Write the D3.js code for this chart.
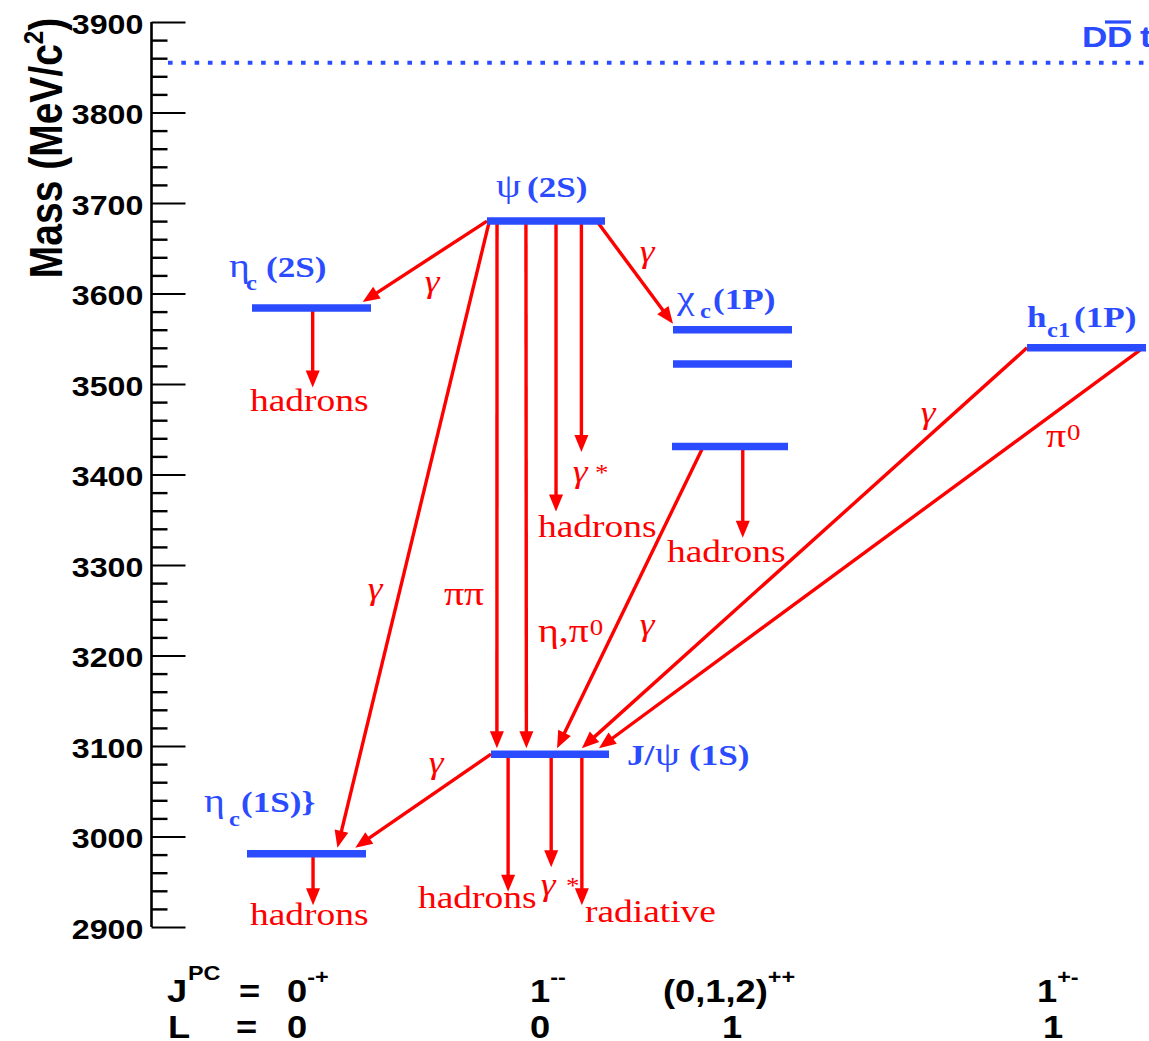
<!DOCTYPE html>
<html><head><meta charset="utf-8">
<script src="https://cdn.jsdelivr.net/npm/d3@7"></script>
<style>
html,body{margin:0;padding:0;background:#fff;}
svg{display:block;}
</style></head><body>
<svg id="chart" width="1149" height="1041"></svg>
<script>
// ---- data ---------------------------------------------------------------
const massDomain  = [2900, 3900];
const majorTicks  = d3.range(2900, 3901, 100);
const minorTicks  = d3.range(2900, 3900, 20).filter(v => v % 100 !== 0);

// charmonium levels, mass in MeV/c^2
const levelKeys   = ["etac1S", "jpsi", "chic0", "chic1", "chic2", "hc1", "etac2S", "psi2S"];
const levelMasses = [2981, 3091, 3431, 3522, 3560, 3540, 3584, 3680];
const thresholdMass = 3855;

// transitions between levels; open decays end at a mass instead of a level
const transitions = [
  {from: "psi2S",  to: "etac2S", label: "γ"},
  {from: "psi2S",  to: "etac1S", label: "γ"},
  {from: "psi2S",  to: "jpsi",   label: "ππ"},
  {from: "psi2S",  to: "jpsi",   label: "η,π0"},
  {from: "psi2S",  end: 3359,    label: "hadrons"},
  {from: "psi2S",  end: 3425,    label: "γ*"},
  {from: "psi2S",  to: "chic2",  label: "γ"},
  {from: "chic0",  to: "jpsi",   label: "γ"},
  {from: "chic0",  end: 3330,    label: "hadrons"},
  {from: "hc1",    to: "jpsi",   label: "γ"},
  {from: "hc1",    to: "jpsi",   label: "π0"},
  {from: "jpsi",   to: "etac1S", label: "γ"},
  {from: "jpsi",   end: 2939,    label: "hadrons"},
  {from: "jpsi",   end: 2966,    label: "γ*"},
  {from: "jpsi",   end: 2924,    label: "radiative"},
  {from: "etac2S", end: 3496,    label: "hadrons"},
  {from: "etac1S", end: 2924,    label: "hadrons"}
];

// quantum numbers per column
const jpcBase = ["0", "1", "(0,1,2)", "1"];
const jpcSup  = ["-+", "--", "++", "+-"];
const lValues = ["0", "0", "1", "1"];

// ---- layout -------------------------------------------------------------
const W = 1149, H = 1041;
const SX = 1.17;                 // horizontal glyph stretch
const BLUE = "#2b4bff", RED = "#ff0000";

const y = d3.scaleLinear().domain(massDomain).range([927, 22]);
const x = d3.scaleIdentity().domain([0, W]);
const axisX = 151.5;

// bar extents of each level
const levelLayout = {
  etac1S: [247, 366], jpsi: [491, 609], chic0: [672, 788], chic1: [673, 792],
  chic2: [673, 792], hc1: [1027, 1146], etac2S: [252, 371], psi2S: [487, 605]
};
// anchor of each transition along source / target bar (0 = left end, 1 = right end)
const anchors = [
  [0.00, 0.93], [0.02, 0.76], [0.085, 0.05], [0.33, 0.30], [0.585], [0.80],
  [0.93, 0.00], [0.27, 0.56], [0.61], [0.00, 0.77], [0.975, 0.915],
  [0.00, 0.91], [0.145], [0.51], [0.77], [0.51], [0.555]
];
const tipGap = 6;

const svg = d3.select("#chart");
const massOf = Object.fromEntries(levelKeys.map((k, i) => [k, levelMasses[i]]));
const barX = (k, f) => x(levelLayout[k][0] + f * (levelLayout[k][1] - levelLayout[k][0]));

function txt(parent, px, py, s, st) {
  return parent.append("text")
    .attr("transform", `translate(${px},${py}) scale(${SX},1)`)
    .attr("font-family", st.family)
    .attr("font-size", st.size)
    .attr("font-weight", st.weight || "normal")
    .attr("font-style", st.style || "normal")
    .attr("fill", st.fill || "#000")
    .attr("text-anchor", st.anchor || "start")
    .text(s);
}
const widthOf = t => t.node().getComputedTextLength() * SX;
const SANS = "'Liberation Sans', Arial, Helvetica, sans-serif";
const SERIF = "'Liberation Serif', 'Times New Roman', serif";

// ---- mass axis ----------------------------------------------------------
const axisG = svg.append("g").attr("transform", `translate(${axisX},0)`);
axisG.call(d3.axisLeft(y).tickValues(minorTicks).tickSize(-16).tickSizeOuter(0).tickFormat(""))
  .call(g => g.select(".domain").remove())
  .call(g => g.selectAll("line").attr("stroke", "#000").attr("stroke-width", 2.4));
const majorG = svg.append("g").attr("transform", `translate(${axisX},0)`);
majorG.call(d3.axisLeft(y).tickValues(majorTicks).tickSize(-34).tickSizeOuter(0).tickPadding(7)
    .tickFormat(d3.format("d")))
  .call(g => g.select(".domain").attr("stroke", "#000").attr("stroke-width", 2.6)
      .attr("d", `M0,${y(massDomain[0])}V${y(massDomain[1])}`))
  .call(g => g.selectAll("line").attr("stroke", "#000").attr("stroke-width", 2))
  .call(g => g.selectAll("text")
      .attr("font-family", SANS).attr("font-size", 27.5).attr("font-weight", "bold")
      .attr("fill", "#000").attr("dy", "0.4em")
      .attr("transform", `scale(${SX},1)`));

// axis title
const title = svg.append("text")
  .attr("transform", `translate(62,148) scale(${SX},1) rotate(-90)`)
  .attr("text-anchor", "middle")
  .attr("font-family", SANS).attr("font-size", 39).attr("font-weight", "bold");
title.append("tspan").text("Mass (MeV/c");
title.append("tspan").attr("font-size", 24).attr("dy", -16).text("2");
title.append("tspan").attr("dy", 16).text(")");

// ---- open-charm threshold ----------------------------------------------
svg.append("line")
  .attr("x1", 168).attr("x2", W).attr("y1", y(thresholdMass)).attr("y2", y(thresholdMass))
  .attr("stroke", BLUE).attr("stroke-width", 4).attr("stroke-dasharray", "4.6 8.7");
const ddSt = {family: SANS, size: 30, weight: "bold", fill: BLUE};
txt(svg, 1082, 47, "D", ddSt);
txt(svg, 1107, 47, "D", ddSt);
svg.append("line").attr("x1", 1105).attr("x2", 1131).attr("y1", 22).attr("y2", 22)
  .attr("stroke", BLUE).attr("stroke-width", 3.2);
txt(svg, 1140, 47, "threshold", ddSt);

// ---- transitions --------------------------------------------------------
const arrowG = svg.append("g");
function arrow(x1, y1, x2, y2) {
  const L = 17, hw = 7;
  const dx = x2 - x1, dy = y2 - y1, len = Math.hypot(dx, dy);
  const ux = dx / len, uy = dy / len;
  const bx = x2 - ux * L, by = y2 - uy * L;
  arrowG.append("line").attr("x1", x1).attr("y1", y1).attr("x2", bx + ux * 2).attr("y2", by + uy * 2)
    .attr("stroke", RED).attr("stroke-width", 3.4);
  arrowG.append("path")
    .attr("d", `M${x2},${y2}L${bx - uy * hw},${by + ux * hw}L${bx + uy * hw},${by - ux * hw}Z`)
    .attr("fill", RED);
}
transitions.forEach((t, i) => {
  const a = anchors[i];
  const x1 = barX(t.from, a[0]), y1 = y(massOf[t.from]);
  if (t.to) {
    arrow(x1, y1, barX(t.to, a[1]), y(massOf[t.to]) - tipGap);
  } else {
    arrow(x1, y1, x1, y(t.end));
  }
});

// ---- levels -------------------------------------------------------------
svg.append("g").selectAll("line").data(levelKeys).join("line")
  .attr("x1", k => x(levelLayout[k][0])).attr("x2", k => x(levelLayout[k][1]))
  .attr("y1", k => y(massOf[k])).attr("y2", k => y(massOf[k]))
  .attr("stroke", BLUE).attr("stroke-width", 7.5);

// level names
const lb = {family: SERIF, size: 30, weight: "bold", fill: BLUE};
const lg = {family: SERIF, size: 34, fill: BLUE};
const ls = {family: SERIF, size: 21, weight: "bold", fill: BLUE};
const nameParts = [
  [229, 277, "η", lg], [246, 290, "c", ls], [266, 277, "(2S)", lb],
  [496, 197, "ψ", lg], [527, 197, "(2S)", lb],
  [677, 309, "χ", lg], [700, 318, "c", ls], [713, 309, "(1P)", lb],
  [1027, 327, "h", lb], [1047, 337, "c1", ls], [1074, 327, "(1P)", lb],
  [627, 765, "J/", lb], [655, 765, "ψ", lg], [689, 765, "(1S)", lb],
  [204, 812, "η", lg], [229, 826, "c", ls], [241, 812, "(1S)}", lb]
];
const nameG = svg.append("g");
nameParts.forEach(p => txt(nameG, p[0], p[1], p[2], p[3]));

// transition labels
const rr = {family: SERIF, size: 32, fill: RED};
const rp = {family: SERIF, size: 34, fill: RED};
const rg = {family: SERIF, size: 32, fill: RED, style: "italic", anchor: "middle"};
const rsup = {family: SERIF, size: 23, fill: RED};
const decayG = svg.append("g");
[
  [432, 292, "γ", rg], [647, 262, "γ", rg], [375, 599, "γ", rg], [647, 635, "γ", rg],
  [928, 423, "γ", rg], [436, 773, "γ", rg],
  [580, 482, "γ", rg], [595, 480, "*", rsup],
  [548, 895, "γ", rg], [566, 893, "*", rsup],
  [250, 411, "hadrons", rr], [538, 537, "hadrons", rr], [667, 562, "hadrons", rr],
  [418, 908, "hadrons", rr], [250, 925, "hadrons", rr], [585, 922, "radiative", rr],
  [444, 605, "ππ", rp]
].forEach(p => txt(decayG, p[0], p[1], p[2], p[3]));
// labels carrying a superscript
[[538, 642, "η,π", "0"], [1046, 447, "π", "0"]].forEach(p => {
  const t = txt(decayG, p[0], p[1], p[2], rp);
  txt(decayG, p[0] + widthOf(t) + 1, p[1] - 7, p[3], rsup);
});

// ---- quantum numbers ----------------------------------------------------
const qb = {family: SANS, size: 31, weight: "bold"};
const qs = {family: SANS, size: 20, weight: "bold"};
const qG = svg.append("g");
txt(qG, 167, 1002, "J", qb); txt(qG, 188, 980, "PC", qs); txt(qG, 239, 1002, "=", qb);
txt(qG, 168, 1038, "L", qb); txt(qG, 236, 1038, "=", qb);
const jpcX = [287, 530, 663, 1037];
const lX = [287, 530, 722, 1043];
jpcBase.forEach((s, i) => {
  const t = txt(qG, jpcX[i], 1002, s, qb);
  txt(qG, jpcX[i] + widthOf(t), 984, jpcSup[i], qs);
  txt(qG, lX[i], 1038, lValues[i], qb);
});
</script>
</body></html>
